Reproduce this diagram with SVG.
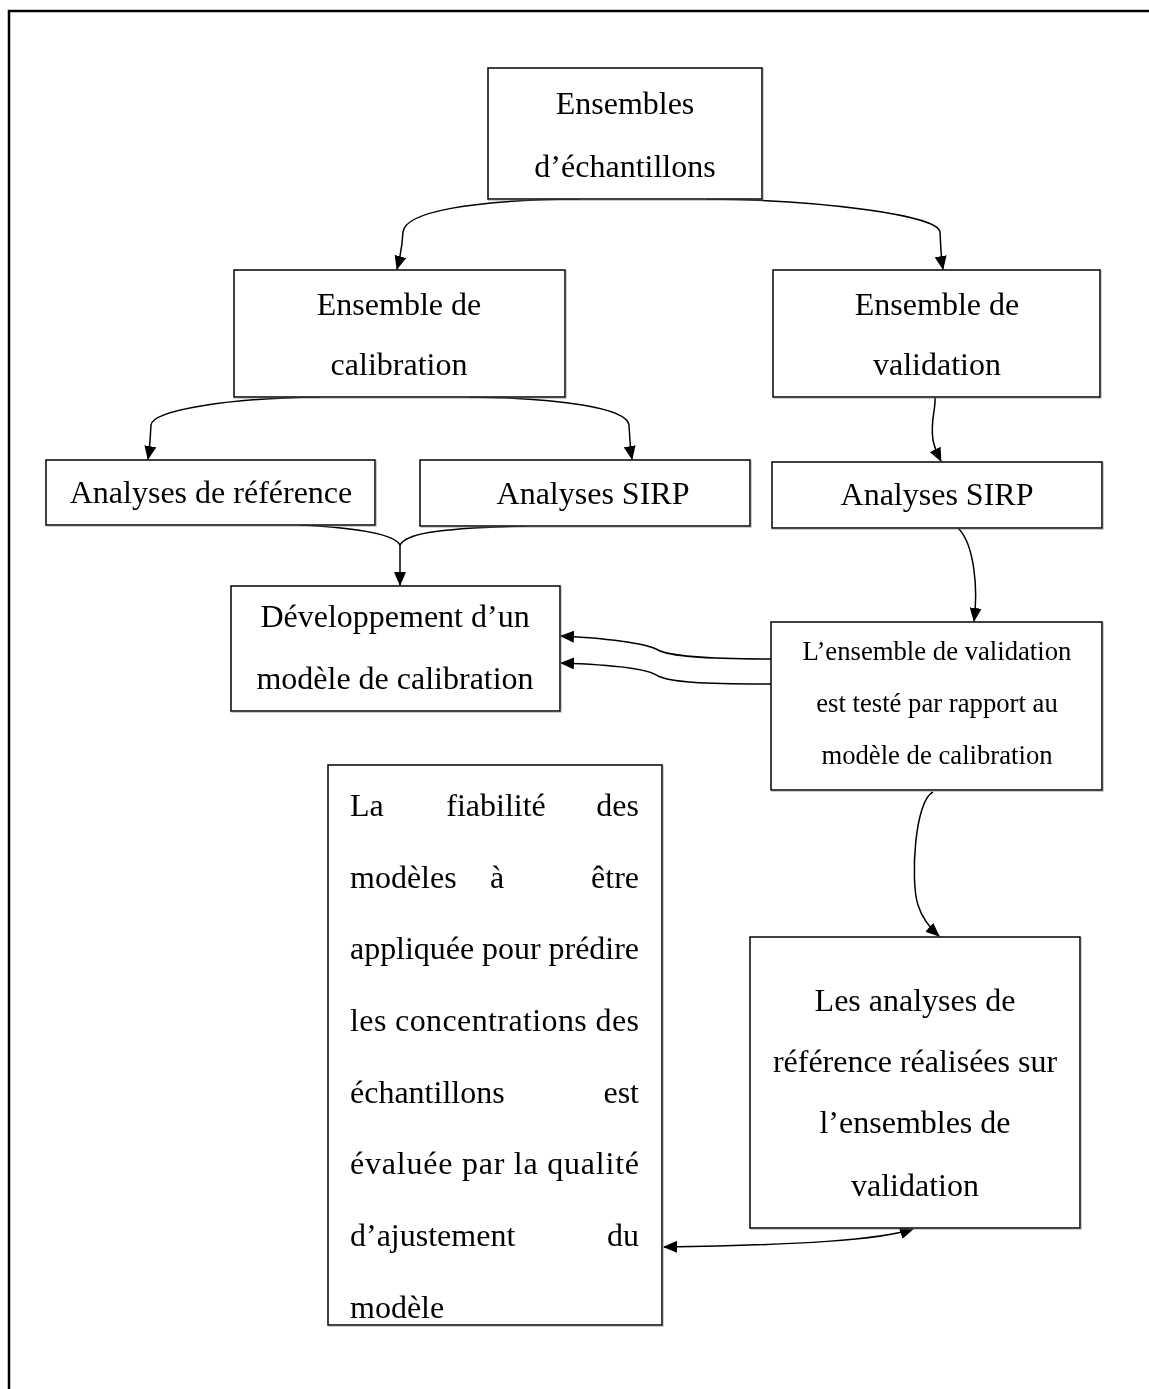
<svg xmlns="http://www.w3.org/2000/svg" width="1149" height="1389" viewBox="0 0 1149 1389">
<style>
.box{fill:#fff;stroke:#000;stroke-width:1.5}
.t{font-family:"Liberation Serif","Times New Roman",serif;font-size:32px;fill:#000}
.s{font-family:"Liberation Serif","Times New Roman",serif;font-size:26.7px;fill:#000}
.c{text-anchor:middle}
.e{text-anchor:end}
.ln{fill:none;stroke:#000;stroke-width:1.5}
</style>
<defs>
<marker id="ah" markerWidth="14" markerHeight="12" refX="13" refY="6" orient="auto" markerUnits="userSpaceOnUse" viewBox="0 0 14 12">
<path d="M0,0 L14,6 L0,12 z" fill="#000"/>
</marker>
<marker id="as" markerWidth="14" markerHeight="12" refX="1" refY="6" orient="auto" markerUnits="userSpaceOnUse" viewBox="0 0 14 12">
<path d="M14,0 L0,6 L14,12 z" fill="#000"/>
</marker>
<filter id="sh" x="-5%" y="-20%" width="110%" height="140%">
<feDropShadow dx="1" dy="1" stdDeviation="0.6" flood-color="#777" flood-opacity="0.5"/>
</filter>
</defs>
<rect width="1149" height="1389" fill="#fff"/>
<path d="M9,1389 V11 H1149" fill="none" stroke="#000" stroke-width="2.5"/>

<g id="connectors">
<path class="ln" d="M580,199 C470,200 405,212 403,232 C402,250 400,258 397,269" marker-end="url(#ah)"/>
<path class="ln" d="M706,199 C820,200 938,215 940,232 C941,250 941,258 943,269" marker-end="url(#ah)"/>
<path class="ln" d="M320,397 C230,398 153,410 151,425 C150,440 150,448 148,459" marker-end="url(#ah)"/>
<path class="ln" d="M470,397 C560,398 627,408 629,425 C630,440 630,448 632,459" marker-end="url(#ah)"/>
<path class="ln" d="M935,397 C936,410 930,420 933,440 C935,450 938,455 941,461" marker-end="url(#ah)"/>
<path class="ln" d="M300,525 C360,528 395,535 400,545 C405,535 430,528 525,526"/>
<path class="ln" d="M400,545 V585" marker-end="url(#ah)"/>
<path class="ln" d="M958,528 C975,545 978,590 974,621" marker-end="url(#ah)"/>
<path class="ln" d="M771,659 C700,659 670,656 658,650 C650,645 620,639 561,636" marker-end="url(#ah)"/>
<path class="ln" d="M771,684 C700,684 670,682 658,676 C650,670 620,665 561,663" marker-end="url(#ah)"/>
<path class="ln" d="M933,792 C915,800 910,880 918,905 C922,918 930,928 939,936" marker-end="url(#ah)"/>
<path class="ln" d="M664,1247 C800,1245 880,1240 913,1229" marker-start="url(#as)" marker-end="url(#ah)"/>
</g>

<g filter="url(#sh)">
<g id="n1"><rect class="box" x="488" y="68" width="274" height="131"/>
<text class="t c" x="625" y="114">Ensembles</text>
<text class="t c" x="625" y="177">d’échantillons</text></g>

<g id="n2"><rect class="box" x="234" y="270" width="331" height="127"/>
<text class="t c" x="399" y="315">Ensemble de</text>
<text class="t c" x="399" y="375">calibration</text></g>

<g id="n3"><rect class="box" x="773" y="270" width="327" height="127"/>
<text class="t c" x="937" y="315">Ensemble de</text>
<text class="t c" x="937" y="375">validation</text></g>

<g id="n4"><rect class="box" x="46" y="460" width="329" height="65"/>
<text class="t c" x="211" y="503">Analyses de référence</text></g>

<g id="n5"><rect class="box" x="420" y="460" width="330" height="66"/>
<text class="t c" x="593" y="504">Analyses SIRP</text></g>

<g id="n6"><rect class="box" x="772" y="462" width="330" height="66"/>
<text class="t c" x="937" y="505">Analyses SIRP</text></g>

<g id="n7"><rect class="box" x="231" y="586" width="329" height="125"/>
<text class="t c" x="395" y="627">Développement d’un</text>
<text class="t c" x="395" y="689">modèle de calibration</text></g>

<g id="n8"><rect class="box" x="771" y="622" width="331" height="168"/>
<text class="s c" x="937" y="660">L’ensemble de validation</text>
<text class="s c" x="937" y="712">est testé par rapport au</text>
<text class="s c" x="937" y="764">modèle de calibration</text></g>

<g id="n9"><rect class="box" x="328" y="765" width="334" height="560"/>
<text class="t" x="350" y="816">La</text><text class="t c" x="496" y="816">fiabilité</text><text class="t e" x="639" y="816">des</text>
<text class="t" x="350" y="888">modèles</text><text class="t c" x="497" y="888">à</text><text class="t e" x="639" y="888">être</text>
<text class="t" x="350" y="959" textLength="289" lengthAdjust="spacing">appliquée pour prédire</text>
<text class="t" x="350" y="1031" textLength="289" lengthAdjust="spacing">les concentrations des</text>
<text class="t" x="350" y="1103">échantillons</text><text class="t e" x="639" y="1103">est</text>
<text class="t" x="350" y="1174" textLength="289" lengthAdjust="spacing">évaluée par la qualité</text>
<text class="t" x="350" y="1246">d’ajustement</text><text class="t e" x="639" y="1246">du</text>
<text class="t" x="350" y="1318">modèle</text></g>

<g id="n10"><rect class="box" x="750" y="937" width="330" height="291"/>
<text class="t c" x="915" y="1011">Les analyses de</text>
<text class="t c" x="915" y="1072">référence réalisées sur</text>
<text class="t c" x="915" y="1133">l’ensembles de</text>
<text class="t c" x="915" y="1196">validation</text></g>
</g>
</svg>
